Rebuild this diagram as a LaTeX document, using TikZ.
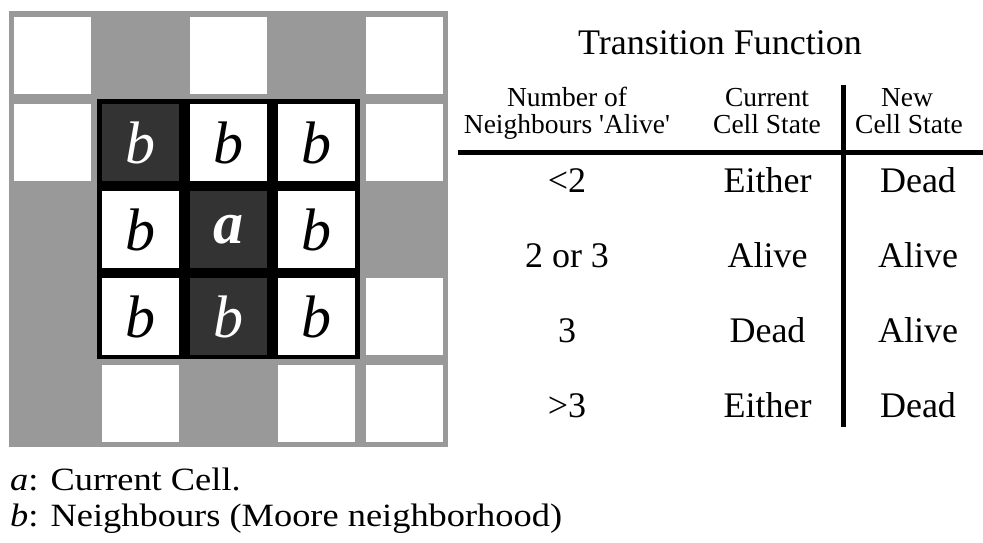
\documentclass[tikz,border=0pt]{standalone}
\usepackage{fontspec}
\newfontfamily\tf{Liberation Serif}
\newfontfamily\wf[FakeStretch=1.12]{Liberation Serif}
\definecolor{cgray}{HTML}{999999}
\definecolor{cdark}{HTML}{333333}
\tikzset{
  cellbase/.style={minimum size=77pt, inner sep=0pt, outer sep=0pt, draw=none,
    font=\fontsize{60}{60}\tf\itshape},
  wcell/.style={cellbase, fill=white},
  gcell/.style={cellbase, fill=cgray},
  dcell/.style={cellbase, fill=cdark, text=white},
  hdr/.style={font=\fontsize{27.5}{28}\tf, anchor=base, inner sep=0pt},
  rowtxt/.style={font=\fontsize{36}{36}\tf, anchor=base, inner sep=0pt},
  note/.style={font=\fontsize{32.5}{36}\wf, anchor=base west, inner sep=0pt},
  rulebar/.style={line width=5pt, black}
}
\begin{document}
\begin{tikzpicture}[x=1pt,y=-1pt]
\useasboundingbox (0,0) rectangle (983,542);
\fill[white] (0,0) rectangle (983,542);
% grid background
\fill[cgray] (9,11) rectangle (448,447);
\fill[black] (97,99) rectangle (360,359);
% cells
\foreach \r/\c/\s/\t in {
  0/0/wcell/{},0/1/gcell/{},0/2/wcell/{},0/3/gcell/{},0/4/wcell/{},
  1/0/wcell/{},1/1/dcell/b,1/2/wcell/b,1/3/wcell/b,1/4/wcell/{},
  2/0/gcell/{},2/1/wcell/b,2/3/wcell/b,2/4/gcell/{},
  3/0/gcell/{},3/1/wcell/b,3/2/dcell/b,3/3/wcell/b,3/4/wcell/{},
  4/0/gcell/{},4/1/wcell/{},4/2/gcell/{},4/3/wcell/{},4/4/wcell/{}}
  \node[\s] (cell-\r-\c) at (52.5+88*\c, 55.5+87*\r) {\t};
\node[dcell, font=\fontsize{60}{60}\tf\bfseries\itshape] (cell-2-2) at (52.5+88*2, 55.5+87*2) {a};
% table
\node[rowtxt, font=\fontsize{36}{36}\tf] (title) at (720,54) {Transition Function};
\node[hdr] (h1a) at (567,106) {Number of};
\node[hdr] (h1b) at (567,133) {Neighbours 'Alive'};
\node[hdr] (h2a) at (767,106) {Current};
\node[hdr] (h2b) at (767,133) {Cell State};
\node[hdr] (h3a) at (907,106) {New};
\node[hdr] (h3b) at (909,133) {Cell State};
\coordinate (hl) at (458,152);
\coordinate (hr) at (983,152);
\coordinate (vt) at (843,85);
\coordinate (vb) at (843,427);
\draw[rulebar] (hl) -- (hr);
\draw[rulebar] (vt) -- (vb);
\foreach \i/\a/\b/\c in {0/{<2}/Either/Dead, 1/{2 or 3}/Alive/Alive, 2/3/Dead/Alive, 3/{>3}/Either/Dead}{
  \node[rowtxt] (r\i a) at (567,192+75*\i) {\a};
  \node[rowtxt] (r\i b) at (767.5,192+75*\i) {\b};
  \node[rowtxt] (r\i c) at (918,192+75*\i) {\c};
}
% notes
\node[note] (nota) at (10,490) {{\itshape a}: Current Cell.};
\node[note] (notb) at (10,526) {{\itshape b}: Neighbours (Moore neighborhood)};
\end{tikzpicture}
\end{document}
